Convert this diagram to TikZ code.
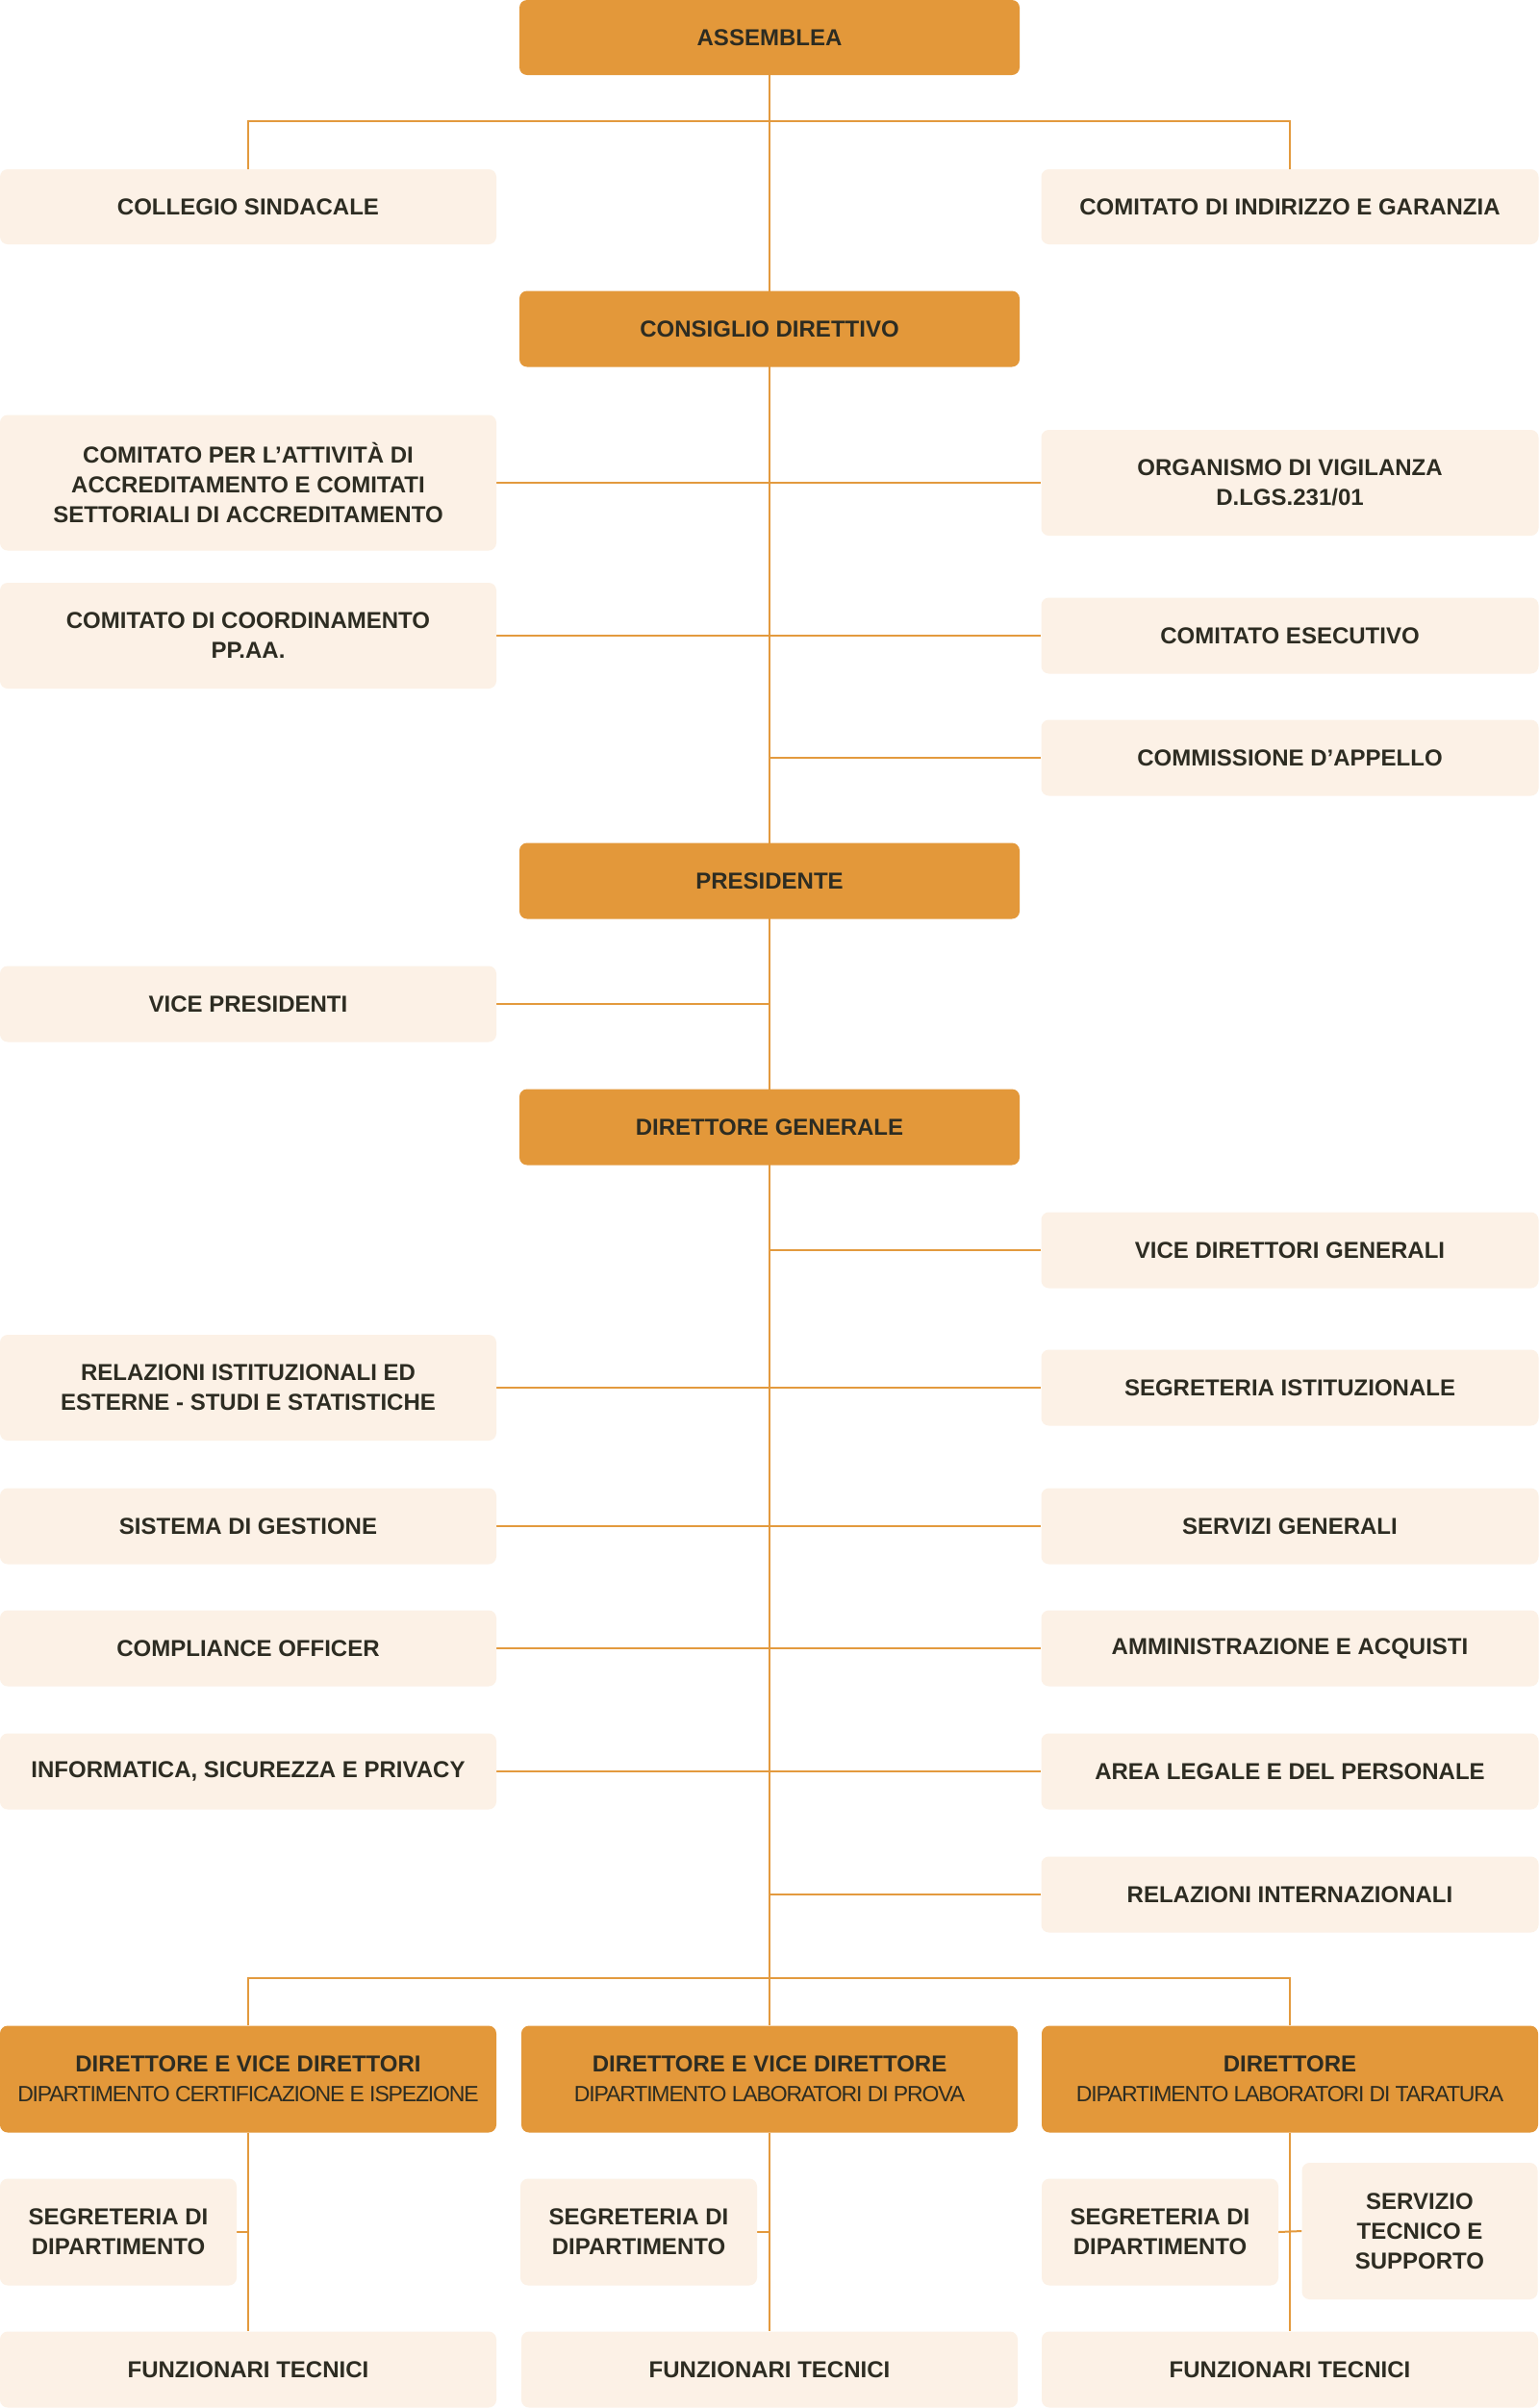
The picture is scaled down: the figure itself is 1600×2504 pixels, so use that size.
\documentclass[tikz,border=0pt]{standalone}
\usepackage{fontspec}
\setmainfont{Liberation Sans}
\usetikzlibrary{backgrounds}
\definecolor{orgfill}{HTML}{E3983A}
\definecolor{lightfill}{HTML}{FCF1E6}
\definecolor{linecol}{HTML}{E39A3E}
\definecolor{txt}{HTML}{2D2C22}
\newcommand{\subt}[1]{{\fontsize{23}{31}\selectfont\mdseries\addfontfeature{LetterSpace=-5}#1}}
\begin{document}
\begin{tikzpicture}[x=1pt,y=-1pt,
  box/.style={rectangle, rounded corners=8pt, inner sep=0pt, align=center, text=txt,
              font=\fontsize{24}{31}\selectfont\bfseries},
  main/.style={box, fill=orgfill},
  sub/.style={box, fill=lightfill},
  conn/.style={draw=linecol, line width=2pt}]
\useasboundingbox (0,0) rectangle (1600,2504);
% top
\node[main, minimum width=520pt, minimum height=78pt] (ass) at (800,39) {ASSEMBLEA};
\node[sub, minimum width=516pt, minimum height=78pt] (cs) at (258,215) {COLLEGIO SINDACALE};
\node[sub, minimum width=517pt, minimum height=78pt] (cig) at (1341,215) {COMITATO DI INDIRIZZO E GARANZIA};
\node[main, minimum width=520pt, minimum height=79pt] (cd) at (800,342) {CONSIGLIO DIRETTIVO};
\node[sub, minimum width=516pt, minimum height=141pt] (cpa) at (258,502) {COMITATO PER L’ATTIVITÀ DI\\ACCREDITAMENTO E COMITATI\\SETTORIALI DI ACCREDITAMENTO};
\node[sub, minimum width=517pt, minimum height=110pt] (org) at (1341,502) {ORGANISMO DI VIGILANZA\\D.LGS.231/01};
\node[sub, minimum width=516pt, minimum height=110pt] (ccp) at (258,661) {COMITATO DI COORDINAMENTO\\PP.AA.};
\node[sub, minimum width=517pt, minimum height=79pt] (ce) at (1341,661) {COMITATO ESECUTIVO};
\node[sub, minimum width=517pt, minimum height=79pt] (cda) at (1341,788) {COMMISSIONE D’APPELLO};
\node[main, minimum width=520pt, minimum height=79pt] (pres) at (800,916) {PRESIDENTE};
\node[sub, minimum width=516pt, minimum height=79pt] (vp) at (258,1044) {VICE PRESIDENTI};
\node[main, minimum width=520pt, minimum height=79pt] (dg) at (800,1172) {DIRETTORE GENERALE};
\node[sub, minimum width=517pt, minimum height=79pt] (vdg) at (1341,1300) {VICE DIRETTORI GENERALI};
\node[sub, minimum width=516pt, minimum height=110pt] (ris) at (258,1443) {RELAZIONI ISTITUZIONALI ED\\ESTERNE - STUDI E STATISTICHE};
\node[sub, minimum width=517pt, minimum height=79pt] (si) at (1341,1443) {SEGRETERIA ISTITUZIONALE};
\node[sub, minimum width=516pt, minimum height=79pt] (sg) at (258,1587) {SISTEMA DI GESTIONE};
\node[sub, minimum width=517pt, minimum height=79pt] (sgen) at (1341,1587) {SERVIZI GENERALI};
\node[sub, minimum width=516pt, minimum height=79pt] (co) at (258,1714) {COMPLIANCE OFFICER};
\node[sub, minimum width=517pt, minimum height=79pt] (aa) at (1341,1714) {AMMINISTRAZIONE E ACQUISTI};
\node[sub, minimum width=516pt, minimum height=79pt] (isp) at (258,1842) {INFORMATICA, SICUREZZA E PRIVACY};
\node[sub, minimum width=517pt, minimum height=79pt] (al) at (1341,1842) {AREA LEGALE E DEL PERSONALE};
\node[sub, minimum width=517pt, minimum height=79pt] (ri) at (1341,1970) {RELAZIONI INTERNAZIONALI};
% departments
\node[main, minimum width=516pt, minimum height=111pt] (d1) at (258,2162) {DIRETTORE E VICE DIRETTORI\\\subt{DIPARTIMENTO CERTIFICAZIONE E ISPEZIONE}};
\node[main, minimum width=516pt, minimum height=111pt] (d2) at (800,2162) {DIRETTORE E VICE DIRETTORE\\\subt{DIPARTIMENTO LABORATORI DI PROVA}};
\node[main, minimum width=516pt, minimum height=111pt] (d3) at (1341,2162) {DIRETTORE\\\subt{DIPARTIMENTO LABORATORI DI TARATURA}};
\node[sub, minimum width=246pt, minimum height=111pt] (s1) at (123,2321) {SEGRETERIA DI\\DIPARTIMENTO};
\node[sub, minimum width=246pt, minimum height=111pt] (s2) at (664,2321) {SEGRETERIA DI\\DIPARTIMENTO};
\node[sub, minimum width=246pt, minimum height=111pt] (s3) at (1206,2321) {SEGRETERIA DI\\DIPARTIMENTO};
\node[sub, minimum width=245pt, minimum height=142pt] (st) at (1476,2320) {SERVIZIO\\TECNICO E\\SUPPORTO};
\node[sub, minimum width=516pt, minimum height=79pt] (f1) at (258,2464) {FUNZIONARI TECNICI};
\node[sub, minimum width=516pt, minimum height=79pt] (f2) at (800,2464) {FUNZIONARI TECNICI};
\node[sub, minimum width=516pt, minimum height=79pt] (f3) at (1341,2464) {FUNZIONARI TECNICI};
\begin{scope}[on background layer]
\fill[white] (0,0) rectangle (1600,2504);
\coordinate (topj) at (800,126);
\coordinate (botj) at (800,2057);
\draw[conn] (ass.south) -- (d2.north);
\draw[conn] (cs.north) |- (topj) -| (cig.north);
\draw[conn] (cpa.east) -- (org.west);
\draw[conn] (ccp.east) -- (ce.west);
\draw[conn] (cda.west) -- (cda.west -| ass.south);
\draw[conn] (vp.east) -- (vp.east -| ass.south);
\draw[conn] (vdg.west) -- (vdg.west -| ass.south);
\draw[conn] (ris.east) -- (si.west);
\draw[conn] (sg.east) -- (sgen.west);
\draw[conn] (co.east) -- (aa.west);
\draw[conn] (isp.east) -- (al.west);
\draw[conn] (ri.west) -- (ri.west -| ass.south);
\draw[conn] (d1.north) |- (botj) -| (d3.north);
\draw[conn] (d1.south) -- (f1.north);
\draw[conn] (d2.south) -- (f2.north);
\draw[conn] (d3.south) -- (f3.north);
\draw[conn] (s1.east) -- (s1.east -| d1.south);
\draw[conn] (s2.east) -- (s2.east -| d2.south);
\draw[conn] (s3.east) -- (st.west);
\end{scope}
\end{tikzpicture}
\end{document}
